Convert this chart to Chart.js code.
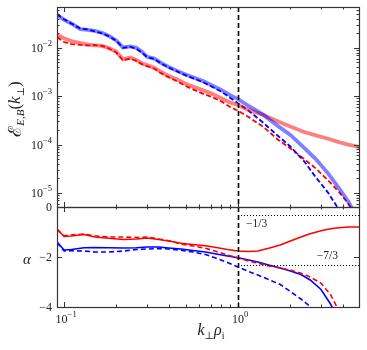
<!DOCTYPE html>
<html>
<head>
<meta charset="utf-8">
<script src="https://cdn.jsdelivr.net/npm/chart.js"></script>
<style>
  body { margin: 0; background: #fff; }
  #caja { position: relative; width: 367px; height: 350px; }
  #caja canvas { position: absolute; left: 0; top: 0; }
</style>
</head>
<body>
<div id="caja">
  <canvas id="espectro" width="367" height="350"></canvas>
  <canvas id="pendiente" width="367" height="350"></canvas>
</div>
<script>
// panel de arriba: espectros vs k_perp rho_i
const kSpec = [0.091, 0.1, 0.11, 0.124, 0.137, 0.15, 0.165, 0.18, 0.2, 0.218, 0.24, 0.26, 0.28, 0.3, 0.33, 0.36, 0.4, 0.45, 0.5, 0.56, 0.63, 0.7, 0.8, 0.9, 1.0, 1.15, 1.4, 1.7, 2.0, 2.4, 2.8, 3.3, 3.8, 4.3, 5.0];
const azulSolido = [4.8e-2, 3.8e-2, 3.2e-2, 2.45e-2, 2.35e-2, 2.25e-2, 2.05e-2, 1.78e-2, 1.41e-2, 1.02e-2, 1.07e-2, 1.0e-2, 8.3e-3, 6.5e-3, 6.0e-3, 4.9e-3, 4.0e-3, 3.3e-3, 2.8e-3, 2.4e-3, 2.05e-3, 1.7e-3, 1.35e-3, 1.05e-3, 8.7e-4, 6.3e-4, 4.1e-4, 2.4e-4, 1.58e-4, 8.5e-5, 5.0e-5, 2.5e-5, 1.26e-5, 6.6e-6, 2.5e-6];
const azulTrazos = [5.0e-2, 3.9e-2, 3.2e-2, 2.5e-2, 2.4e-2, 2.2e-2, 2.0e-2, 1.75e-2, 1.4e-2, 1.0e-2, 1.05e-2, 9.6e-3, 8.0e-3, 6.4e-3, 5.9e-3, 4.8e-3, 3.9e-3, 3.2e-3, 2.7e-3, 2.3e-3, 1.95e-3, 1.6e-3, 1.25e-3, 9.3e-4, 7.1e-4, 5.0e-4, 2.8e-4, 1.5e-4, 9.1e-5, 4.5e-5, 2.1e-5, 1.0e-5, 4.5e-6, 2.0e-6, 6.3e-7];
const rojoSolido = [1.86e-2, 1.58e-2, 1.38e-2, 1.26e-2, 1.17e-2, 1.12e-2, 1.1e-2, 1.0e-2, 8.3e-3, 5.8e-3, 6.3e-3, 5.6e-3, 4.8e-3, 4.4e-3, 3.9e-3, 3.2e-3, 2.6e-3, 2.2e-3, 1.8e-3, 1.55e-3, 1.32e-3, 1.15e-3, 9.1e-4, 7.4e-4, 6.6e-4, 5.2e-4, 4.1e-4, 3.0e-4, 2.35e-4, 1.82e-4, 1.55e-4, 1.32e-4, 1.12e-4, 1.0e-4, 8.9e-5];
const rojoTrazos = [1.66e-2, 1.32e-2, 1.2e-2, 1.15e-2, 1.12e-2, 1.15e-2, 1.1e-2, 9.8e-3, 7.9e-3, 5.5e-3, 6.0e-3, 5.4e-3, 4.6e-3, 4.2e-3, 3.7e-3, 3.0e-3, 2.45e-3, 2.0e-3, 1.62e-3, 1.35e-3, 1.12e-3, 9.8e-4, 7.8e-4, 6.0e-4, 5.0e-4, 3.7e-4, 2.3e-4, 1.26e-4, 8.3e-5, 5.0e-5, 3.2e-5, 1.8e-5, 1.05e-5, 6.0e-6, 2.5e-6];

// panel de abajo: pendiente local alpha
const kAlpha = [0.091, 0.1, 0.11, 0.13, 0.15, 0.18, 0.22, 0.26, 0.3, 0.35, 0.4, 0.47, 0.55, 0.65, 0.75, 0.87, 1.0, 1.15, 1.3, 1.5, 1.75, 2.0, 2.3, 2.6, 3.0, 3.4, 3.8, 4.3, 5.0];
const alfaRojo = [-0.88, -1.18, -1.16, -1.1, -1.2, -1.25, -1.3, -1.28, -1.24, -1.3, -1.36, -1.45, -1.5, -1.55, -1.62, -1.7, -1.76, -1.78, -1.76, -1.65, -1.52, -1.36, -1.2, -1.07, -0.95, -0.87, -0.83, -0.8, -0.8];
const alfaRojoTrazos = [-0.9, -1.15, -1.12, -1.08, -1.15, -1.2, -1.2, -1.22, -1.2, -1.28, -1.35, -1.48, -1.56, -1.65, -1.78, -1.92, -2.04, -2.16, -2.25, -2.36, -2.44, -2.52, -2.65, -2.8, -3.05, -3.5, -4.15, -5, -6];
const alfaAzul = [-1.4, -1.72, -1.7, -1.63, -1.62, -1.63, -1.64, -1.63, -1.6, -1.6, -1.64, -1.68, -1.74, -1.8, -1.88, -1.96, -2.03, -2.12, -2.2, -2.32, -2.44, -2.56, -2.7, -2.92, -3.3, -3.88, -4.5, -5.2, -6];
const alfaAzulTrazos = [-1.42, -1.76, -1.75, -1.76, -1.8, -1.8, -1.76, -1.7, -1.68, -1.66, -1.68, -1.73, -1.8, -1.9, -2.05, -2.22, -2.4, -2.58, -2.72, -2.9, -3.1, -3.38, -3.68, -3.98, -4.5, -5, -5.5, -6, -7];

// ticks
const xTicks = [0.1, 1];
const xTickLabels = [['10', '\u22121'], ['10', '0']];
const yTicksEsp = [1e-5, 1e-4, 1e-3, 1e-2];
const yTickLabelsEsp = [['10', '\u22125'], ['10', '\u22124'], ['10', '\u22123'], ['10', '\u22122']];
const yTicksAlfa = [0, -2, -4];
const yTickLabelsAlfa = ['0', '\u22122', '\u22124'];
const refAlfa = [-1 / 3, -7 / 3];

const serif = '"Liberation Serif", "DejaVu Serif", serif';
const tinta = '#222';

function pares(xs, ys) { return xs.map((x, i) => ({ x: x, y: ys[i] })); }

function menores(lo, hi) {
  const out = [];
  for (let e = -7; e <= 1; e++) for (let m = 2; m <= 9; m++) {
    const v = m * Math.pow(10, e);
    if (v > lo && v < hi) out.push(v);
  }
  return out;
}

// escribe trozos de texto con sub/superindices
function trozos(ctx, partes, x, y, align) {
  let w = 0;
  partes.forEach(p => { ctx.font = (p[2] ? 'italic ' : '') + p[1] + 'px ' + serif; w += ctx.measureText(p[0]).width; });
  let cx = align === 'right' ? x - w : (align === 'center' ? x - w / 2 : x);
  ctx.textAlign = 'left';
  ctx.textBaseline = 'middle';
  partes.forEach(p => {
    ctx.font = (p[2] ? 'italic ' : '') + p[1] + 'px ' + serif;
    ctx.fillText(p[0], cx, y + p[3]);
    cx += ctx.measureText(p[0]).width;
  });
}

function potencia(ctx, par, x, y, align) {
  trozos(ctx, [[par[0], 12, false, 0], [par[1], 8.5, false, -5]], x, y, align);
}

function marco(cfg) {
  return {
    id: 'marco',
    afterDatasetsDraw(chart) {
      const ctx = chart.ctx, a = chart.chartArea;
      const sx = chart.scales.x, sy = chart.scales.y;
      ctx.save();
      ctx.strokeStyle = '#333';
      ctx.lineWidth = 1;
      const raya = (x1, y1, x2, y2) => { ctx.beginPath(); ctx.moveTo(x1, y1); ctx.lineTo(x2, y2); ctx.stroke(); };
      const marcaX = (v, l) => {
        const x = Math.round(sx.getPixelForValue(v)) + 0.5;
        raya(x, a.bottom, x, a.bottom - l);
        raya(x, a.top, x, a.top + l);
      };
      const marcaY = (v, l) => {
        const y = Math.round(sy.getPixelForValue(v)) + 0.5;
        raya(a.left, y, a.left + l, y);
        raya(a.right, y, a.right - l, y);
      };
      xTicks.forEach(v => marcaX(v, 5));
      menores(sx.min, sx.max).forEach(v => marcaX(v, 2.5));
      cfg.yMaj.forEach(v => marcaY(v, 5));
      if (cfg.yLog) menores(sy.min, sy.max).forEach(v => marcaY(v, 2.5));

      // linea vertical en k rho = 1
      ctx.save();
      ctx.strokeStyle = '#000';
      ctx.lineWidth = 1.6;
      ctx.setLineDash([5, 3]);
      const x1 = Math.round(sx.getPixelForValue(1)) + 0.5;
      raya(x1, a.top, x1, a.bottom);
      ctx.restore();

      if (cfg.extra) cfg.extra(ctx, chart, raya);

      ctx.strokeStyle = '#333';
      ctx.lineWidth = 1.2;
      ctx.strokeRect(a.left + 0.5, a.top + 0.5, a.right - a.left, a.bottom - a.top);

      ctx.fillStyle = tinta;
      cfg.etiquetas(ctx, chart);
      ctx.restore();
    }
  };
}

const base = {
  type: 'line',
  options: {
    responsive: false,
    animation: false,
    devicePixelRatio: 1,
    plugins: { legend: { display: false }, tooltip: { enabled: false } },
    elements: { point: { radius: 0 }, line: { tension: 0 } },
  }
};

new Chart(document.getElementById('espectro'), {
  type: 'line',
  data: {
    datasets: [
      { data: pares(kSpec, azulSolido), borderColor: 'rgba(0,0,255,0.5)', borderWidth: 3.8 },
      { data: pares(kSpec, rojoSolido), borderColor: 'rgba(255,0,0,0.5)', borderWidth: 3.8 },
      { data: pares(kSpec, azulTrazos), borderColor: '#0000ff', borderWidth: 1.8, borderDash: [5, 2.5] },
      { data: pares(kSpec, rojoTrazos), borderColor: '#ff0000', borderWidth: 1.8, borderDash: [5, 2.5] },
    ]
  },
  options: Object.assign({}, base.options, {
    layout: { padding: { left: 57, right: 8, top: 7, bottom: 143 } },
    scales: {
      x: { type: 'logarithmic', min: 0.091, max: 4.96, display: false },
      y: { type: 'logarithmic', min: 5.1e-6, max: 7.0e-2, display: false },
    }
  }),
  plugins: [marco({
    yMaj: yTicksEsp,
    yLog: true,
    etiquetas(ctx, chart) {
      const a = chart.chartArea, sy = chart.scales.y;
      yTicksEsp.forEach((v, i) => potencia(ctx, yTickLabelsEsp[i], a.left - 5, sy.getPixelForValue(v) + 1, 'right'));
      ctx.save();
      ctx.translate(16, 109);
      ctx.rotate(-Math.PI / 2);
      trozos(ctx, [['\u2130', 18, false, 0], ['E,B', 11, true, 5], ['(', 17, false, 0], ['k', 17, true, 0], ['\u22a5', 10, false, 5], [')', 17, false, 0]], 0, 0, 'center');
      ctx.restore();
    }
  })]
});

new Chart(document.getElementById('pendiente'), {
  type: 'line',
  data: {
    datasets: [
      { data: pares(kAlpha, alfaRojo), borderColor: '#ff0000', borderWidth: 1.6 },
      { data: pares(kAlpha, alfaRojoTrazos), borderColor: '#ff0000', borderWidth: 1.6, borderDash: [5, 3] },
      { data: pares(kAlpha, alfaAzul), borderColor: '#0000ff', borderWidth: 1.6 },
      { data: pares(kAlpha, alfaAzulTrazos), borderColor: '#0000ff', borderWidth: 1.6, borderDash: [5, 3] },
    ]
  },
  options: Object.assign({}, base.options, {
    layout: { padding: { left: 57, right: 8, top: 207, bottom: 43 } },
    scales: {
      x: { type: 'logarithmic', min: 0.091, max: 4.96, display: false },
      y: { type: 'linear', min: -4, max: 0, display: false },
    }
  }),
  plugins: [marco({
    yMaj: yTicksAlfa,
    yLog: false,
    extra(ctx, chart, raya) {
      const a = chart.chartArea, sx = chart.scales.x, sy = chart.scales.y;
      ctx.save();
      ctx.strokeStyle = '#000';
      ctx.lineWidth = 1;
      ctx.setLineDash([1, 2]);
      refAlfa.forEach(v => {
        const y = Math.round(sy.getPixelForValue(v)) + 0.5;
        raya(sx.getPixelForValue(1), y, a.right, y);
      });
      ctx.restore();
      ctx.fillStyle = tinta;
      trozos(ctx, [['\u22121/3', 11.5, false, 0]], sx.getPixelForValue(1) + 8, sy.getPixelForValue(refAlfa[0]) + 9, 'left');
      trozos(ctx, [['\u22127/3', 11.5, false, 0]], a.right - 21, sy.getPixelForValue(refAlfa[1]) - 9, 'right');
    },
    etiquetas(ctx, chart) {
      const a = chart.chartArea, sx = chart.scales.x, sy = chart.scales.y;
      yTicksAlfa.forEach((v, i) => trozos(ctx, [[yTickLabelsAlfa[i], 12, false, 0]], a.left - 5, sy.getPixelForValue(v) + 1, 'right'));
      xTicks.forEach((v, i) => potencia(ctx, xTickLabels[i], sx.getPixelForValue(v) + 2, a.bottom + 13, 'center'));
      trozos(ctx, [['\u03b1', 15, true, 0]], 27, 260, 'center');
      trozos(ctx, [['k', 16, true, 0], ['\u22a5', 10, false, 5], ['\u03c1', 16, true, 0], ['i', 10, false, 5]], 211, 331, 'center');
    }
  })]
});
</script>
</body>
</html>
